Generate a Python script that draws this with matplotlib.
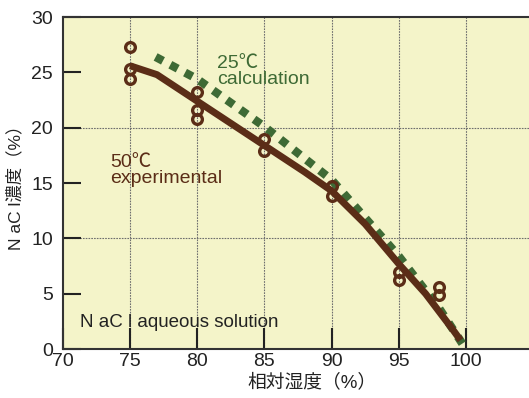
import numpy as np
import matplotlib
matplotlib.use("Agg")
import matplotlib.pyplot as plt

plt.rcParams["font.family"] = ["Liberation Sans", "Noto Sans CJK JP", "DejaVu Sans"]

# experimental points (50C)
exp_x = [75, 75, 75, 80, 80, 80, 85, 85, 90, 90, 95, 95, 98, 98]
exp_y = [27.3, 25.3, 24.4, 23.2, 21.6, 20.8, 19.0, 17.9, 14.7, 13.8, 7.0, 6.2, 5.6, 4.9]

# experimental fitted line (50C)
fit_x = [75, 77, 80, 85, 88, 90, 92.5, 95, 97, 99, 99.6]
fit_y = [25.6, 24.8, 22.4, 18.4, 16.0, 14.3, 11.3, 7.7, 5.0, 1.8, 0.8]

# calculation (25C)
calc_x = [76.9, 80, 85, 90, 95, 98, 100]
calc_y = [26.4, 24.4, 20.1, 15.3, 8.4, 3.7, 0.0]

xticks = [70, 75, 80, 85, 90, 95, 100]
yticks = [0, 5, 10, 15, 20, 25, 30]

brown = "#5b2d17"
green = "#3e6a35"

fig = plt.figure(figsize=(5.29, 3.98), dpi=100)
ax = fig.add_axes([0.119, 0.123, 0.881, 0.834])
ax.set_facecolor("#f4f4c9")

ax.set_xlim(70, 104.7)
ax.set_ylim(0, 30)

for x in xticks[1:]:
    ax.axvline(x, color="#6e6e6e", lw=0.8, ls=(0, (1.5, 1)), zorder=1)
for y in [10, 20]:
    ax.axhline(y, color="#6e6e6e", lw=0.8, ls=(0, (1.5, 1)), zorder=1)

ax.plot(calc_x, calc_y, color=green, lw=6, ls=(0, (1, 1)), zorder=3)
ax.plot(fit_x, fit_y, color=brown, lw=5, solid_capstyle="butt", zorder=4)
ax.plot(exp_x, exp_y, "o", ms=7, mfc="none", mec=brown, mew=2.4, zorder=5)

ax.set_xticks(xticks)
ax.set_yticks(yticks)
ax.tick_params(direction="in", length=13, width=1.5, color="#222222",
               labelsize=14, labelcolor="#222222")
ax.tick_params(axis="x", length=15, pad=3)
ax.tick_params(axis="y", pad=7)
for s in ["left", "bottom", "top"]:
    ax.spines[s].set_linewidth(1.5)
    ax.spines[s].set_color("#333333")
ax.spines["right"].set_visible(False)

ax.text(81.5, 24.0, "25℃\ncalculation", color=green, fontsize=14,
        linespacing=0.9, va="baseline")
ax.text(73.5, 15.0, "50℃\nexperimental", color=brown, fontsize=14,
        linespacing=0.9, va="baseline")
ax.text(71.3, 2.0, "N aC l aqueous solution", color="#222222", fontsize=13.5,
        va="baseline")

fig.text(0.028, 0.54, "N aC l濃度（%）", rotation=90, fontsize=12.5,
         color="#222222", ha="center", va="center")
fig.text(0.59, 0.04, "相対湿度（%）", fontsize=13.5, color="#222222",
         ha="center", va="center")

plt.savefig("out.png", dpi=100)
